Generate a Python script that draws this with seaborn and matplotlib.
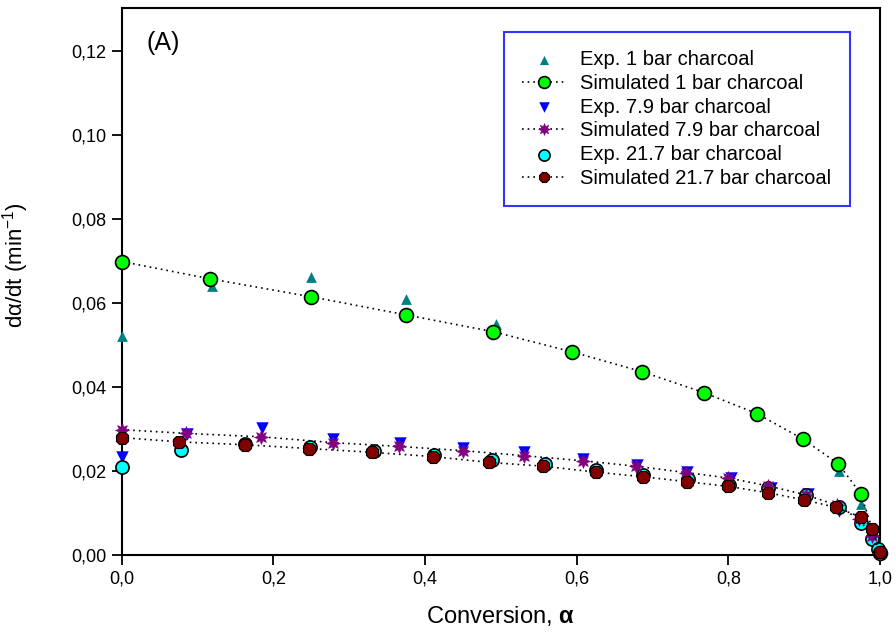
import matplotlib
matplotlib.use("Agg")
import matplotlib.pyplot as plt
import seaborn as sns
import numpy as np
import pandas as pd

# ---------------- data ----------------
x_exp1 = [0.0, 0.119, 0.25, 0.375, 0.493, 0.946, 0.975, 0.995]
y_exp1 = [0.052, 0.064, 0.066, 0.061, 0.055, 0.020, 0.012, 0.004]

x_sim1 = [0.0, 0.116, 0.25, 0.375, 0.49, 0.594, 0.686, 0.768, 0.838, 0.898, 0.945, 0.975, 1.0]
y_sim1 = [0.0698, 0.0657, 0.0614, 0.0571, 0.0531, 0.0483, 0.0436, 0.0386, 0.0336, 0.0276, 0.0217, 0.0145, 0.0005]

x_exp79 = [0.0, 0.086, 0.185, 0.279, 0.367, 0.45, 0.531, 0.609, 0.68, 0.745, 0.803, 0.856, 0.905, 0.946, 0.99]
y_exp79 = [0.0233, 0.0288, 0.0302, 0.0276, 0.0267, 0.0255, 0.0244, 0.0228, 0.0215, 0.0198, 0.0183, 0.0160, 0.0146, 0.0104, 0.0045]

x_sim79 = [0.0, 0.085, 0.184, 0.279, 0.366, 0.45, 0.531, 0.608, 0.678, 0.744, 0.80, 0.853, 0.902, 0.944, 0.972, 0.99, 1.0]
y_sim79 = [0.0298, 0.0289, 0.0281, 0.0267, 0.0258, 0.0248, 0.0236, 0.0224, 0.0211, 0.0196, 0.0183, 0.0164, 0.0143, 0.0118, 0.0085, 0.0045, 0.0005]

x_exp217 = [0.0, 0.078, 0.163, 0.248, 0.332, 0.412, 0.488, 0.558, 0.626, 0.688, 0.747, 0.801, 0.853, 0.902, 0.946, 0.975, 0.99, 0.998]
y_exp217 = [0.0210, 0.0250, 0.0265, 0.0257, 0.0247, 0.0238, 0.0226, 0.0216, 0.0202, 0.0191, 0.0181, 0.0167, 0.0158, 0.0143, 0.0115, 0.0076, 0.0038, 0.0015]

x_sim217 = [0.0, 0.075, 0.162, 0.247, 0.33, 0.41, 0.485, 0.556, 0.625, 0.687, 0.746, 0.8, 0.852, 0.9, 0.942, 0.975, 0.99, 1.0]
y_sim217 = [0.0279, 0.0269, 0.0262, 0.0253, 0.0244, 0.0234, 0.0220, 0.0211, 0.0197, 0.0186, 0.0174, 0.0163, 0.0148, 0.0131, 0.0113, 0.0090, 0.0062, 0.0007]

labels = ["Exp. 1 bar charcoal", "Simulated 1 bar charcoal",
          "Exp. 7.9 bar charcoal", "Simulated 7.9 bar charcoal",
          "Exp. 21.7 bar charcoal", "Simulated 21.7 bar charcoal"]

xticks = [0.0, 0.2, 0.4, 0.6, 0.8, 1.0]
xtick_labels = ["0,0", "0,2", "0,4", "0,6", "0,8", "1,0"]
yticks = [0.00, 0.02, 0.04, 0.06, 0.08, 0.10, 0.12]
ytick_labels = ["0,00", "0,02", "0,04", "0,06", "0,08", "0,10", "0,12"]

# ---------------- style ----------------
sns.set_theme(style="white")
plt.rcParams["font.family"] = ["Liberation Sans", "DejaVu Sans"]
plt.rcParams["mathtext.fontset"] = "custom"
plt.rcParams["mathtext.rm"] = "Liberation Sans"
plt.rcParams["mathtext.it"] = "Liberation Sans"
plt.rcParams["mathtext.bf"] = "Liberation Sans:bold"

fig = plt.figure(figsize=(8.96, 6.4), dpi=100)
ax = fig.add_axes([0.136, 0.133, 0.846, 0.855])

dot = (0, (1, 2.4))

# experimental (plotted first, underneath)
sns.scatterplot(x=x_exp1, y=y_exp1, ax=ax, marker="^", s=60, color="#008080",
                edgecolor="#008080", linewidth=0, label=labels[0], zorder=3, clip_on=False)
sns.scatterplot(x=x_exp79, y=y_exp79, ax=ax, marker="v", s=80, color="#0000FF",
                edgecolor="#0000FF", linewidth=0, label=labels[2], zorder=3, clip_on=False)
sns.scatterplot(x=x_exp217, y=y_exp217, ax=ax, marker="o", s=90, color="#00FFFF",
                edgecolor="black", linewidth=1.2, label=labels[4], zorder=3, clip_on=False)

# simulated (dotted lines with markers)
sns.lineplot(x=x_sim1, y=y_sim1, ax=ax, color="black", linestyle=dot, linewidth=1.2,
             marker="o", markersize=10, markerfacecolor="#00FF00", markeredgecolor="black",
             markeredgewidth=1.2, label=labels[1], estimator=None, sort=False, zorder=4,
             clip_on=False)
sns.lineplot(x=x_sim79, y=y_sim79, ax=ax, color="black", linestyle=dot, linewidth=1.2,
             marker=(8, 1, 0), markersize=10, markerfacecolor="#800080", markeredgecolor="#800080",
             markeredgewidth=0.5, label=labels[3], estimator=None, sort=False, zorder=4,
             clip_on=False)
sns.lineplot(x=x_sim217, y=y_sim217, ax=ax, color="black", linestyle=dot, linewidth=1.2,
             marker="8", markersize=9.5, markerfacecolor="#800000", markeredgecolor="black",
             markeredgewidth=0.8, label=labels[5], estimator=None, sort=False, zorder=5,
             clip_on=False)

ax.set_xlim(0, 1.0)
ax.set_ylim(0, 0.1302)
ax.set_xticks(xticks)
ax.set_xticklabels(xtick_labels)
ax.set_yticks(yticks)
ax.set_yticklabels(ytick_labels)
ax.tick_params(axis="both", which="major", direction="out", length=7, width=1.3,
               labelsize=13, color="black", labelcolor="black",
               bottom=True, left=True, top=False, right=False, pad=4)
for sp in ax.spines.values():
    sp.set_color("black")
    sp.set_linewidth(1.5)
    sp.set_zorder(2)
ax.grid(False)

ax.set_xlabel(r"Conversion, $\mathbf{\alpha}$", fontsize=17, color="black", labelpad=12)
ax.set_ylabel(r"d$\alpha$/dt (min$^{-1}$)", fontsize=16, color="black")
ax.yaxis.set_label_coords(-0.12, 0.53)

ax.text(0.032, 0.958, "(A)", transform=ax.transAxes, fontsize=18, color="black",
        ha="left", va="top")

# legend in reference order
handles, labs = ax.get_legend_handles_labels()
hmap = dict(zip(labs, handles))
leg = ax.legend([hmap[l] for l in labels], labels, loc="upper right",
                bbox_to_anchor=(0.96, 0.956), fontsize=14.5, frameon=True,
                fancybox=False, borderpad=0.9, labelspacing=0.24, handlelength=2.2,
                handletextpad=0.7, borderaxespad=0, markerscale=0.85)
leg.get_frame().set_edgecolor("#0000FF")
leg.get_frame().set_linewidth(1.5)
for t in leg.get_texts():
    t.set_color("black")

fig.savefig("out.png", dpi=100)
